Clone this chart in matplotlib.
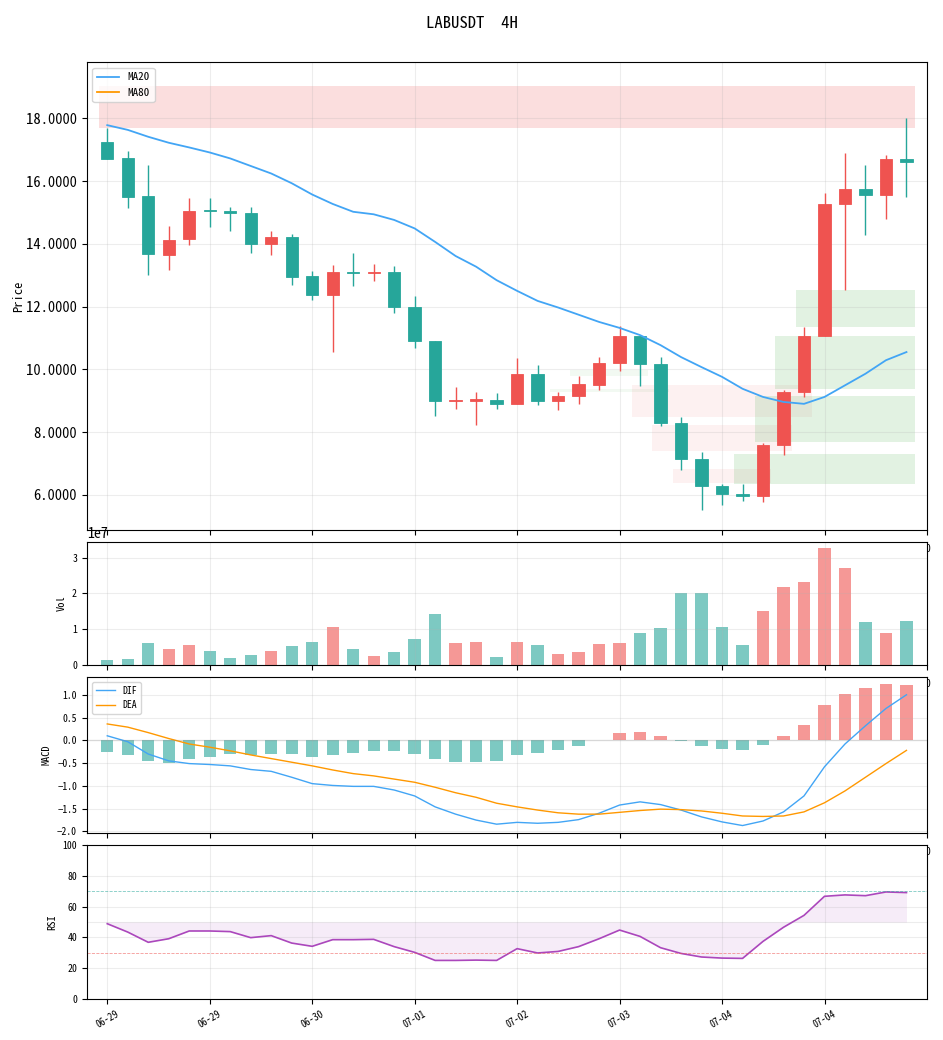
#!/usr/bin/env python3
import matplotlib

matplotlib.use("Agg")
import matplotlib.pyplot as plt

# 4H candles, LABUSDT
opens = [17.23, 16.72, 15.51, 13.63, 14.14, 15.07, 15.05, 14.97, 13.98, 14.23,
         12.96, 12.38, 13.10, 13.08, 13.09, 11.97, 10.91, 8.99, 9.00, 9.03,
         8.90, 9.86, 9.00, 9.16, 9.51, 10.20, 11.07, 10.18, 8.30, 7.15,
         6.29, 6.04, 5.97, 7.60, 9.28, 11.05, 15.26, 15.74, 15.57, 16.69]
closes = [16.71, 15.50, 13.66, 14.11, 15.06, 15.05, 14.97, 13.98, 14.23, 12.95,
          12.38, 13.09, 13.08, 13.10, 11.97, 10.91, 9.00, 9.01, 9.04, 8.90,
          9.86, 9.00, 9.16, 9.54, 10.21, 11.07, 10.18, 8.30, 7.15, 6.29,
          6.03, 5.97, 7.60, 9.29, 11.07, 15.26, 15.74, 15.57, 16.69, 16.60]
highs = [17.70, 16.96, 16.51, 14.56, 15.46, 15.46, 15.17, 15.17, 14.40, 14.31,
         13.13, 13.32, 13.70, 13.35, 13.29, 12.33, 10.91, 9.43, 9.27, 9.23,
         10.35, 10.13, 9.27, 9.78, 10.38, 11.38, 11.07, 10.38, 8.47, 7.38,
         6.36, 6.33, 7.66, 9.35, 11.34, 15.62, 16.89, 16.51, 16.83, 18.01]
lows = [16.71, 15.15, 13.01, 13.17, 13.97, 14.54, 14.41, 13.71, 13.65, 12.69,
        12.21, 10.55, 12.66, 12.82, 11.80, 10.68, 8.51, 8.74, 8.22, 8.73,
        8.90, 8.86, 8.70, 8.90, 9.34, 9.95, 9.47, 8.19, 6.79, 5.51,
        5.68, 5.80, 5.77, 7.27, 9.12, 11.05, 12.53, 14.29, 14.79, 15.50]
volumes = [0.14e7, 0.17e7, 0.61e7, 0.44e7, 0.56e7, 0.39e7, 0.20e7, 0.28e7, 0.39e7, 0.53e7,
           0.645e7, 1.065e7, 0.45e7, 0.25e7, 0.36e7, 0.73e7, 1.43e7, 0.62e7, 0.645e7, 0.22e7,
           0.645e7, 0.56e7, 0.31e7, 0.36e7, 0.59e7, 0.62e7, 0.90e7, 1.04e7, 2.00e7, 2.00e7,
           1.06e7, 0.56e7, 1.50e7, 2.17e7, 2.31e7, 3.28e7, 2.72e7, 1.19e7, 0.89e7, 1.22e7]
ma20 = [17.78, 17.63, 17.41, 17.22, 17.07, 16.91, 16.72, 16.48, 16.24, 15.93,
        15.57, 15.27, 15.02, 14.94, 14.76, 14.49, 14.06, 13.61, 13.27, 12.84,
        12.50, 12.18, 11.97, 11.74, 11.51, 11.32, 11.09, 10.77, 10.39, 10.07,
        9.76, 9.38, 9.12, 8.96, 8.90, 9.12, 9.49, 9.86, 10.29, 10.55]

dif = [0.10, -0.03, -0.30, -0.45, -0.51, -0.53, -0.56, -0.64, -0.68, -0.81,
       -0.95, -0.99, -1.01, -1.01, -1.09, -1.22, -1.46, -1.62, -1.75, -1.84,
       -1.80, -1.82, -1.80, -1.74, -1.60, -1.42, -1.35, -1.41, -1.53, -1.68,
       -1.79, -1.87, -1.77, -1.57, -1.22, -0.58, -0.08, 0.32, 0.70, 1.00]
dea = [0.36, 0.29, 0.17, 0.04, -0.08, -0.15, -0.23, -0.32, -0.40, -0.48,
       -0.56, -0.65, -0.73, -0.78, -0.85, -0.92, -1.03, -1.15, -1.25, -1.38,
       -1.46, -1.53, -1.59, -1.62, -1.62, -1.58, -1.54, -1.51, -1.52, -1.55,
       -1.60, -1.66, -1.67, -1.66, -1.57, -1.37, -1.11, -0.81, -0.51, -0.22]
macd_hist = [-0.25, -0.32, -0.45, -0.49, -0.42, -0.36, -0.29, -0.32, -0.29, -0.30,
             -0.36, -0.32, -0.27, -0.23, -0.23, -0.29, -0.42, -0.47, -0.47, -0.45,
             -0.32, -0.27, -0.21, -0.12, 0.0, 0.16, 0.18, 0.10, -0.015, -0.12,
             -0.18, -0.21, -0.10, 0.10, 0.34, 0.78, 1.02, 1.15, 1.24, 1.22]
rsi = [48.9, 43.5, 36.9, 39.2, 44.2, 44.2, 43.8, 39.9, 41.2, 36.4,
       34.3, 38.6, 38.6, 38.8, 34.1, 30.4, 25.2, 25.2, 25.4, 25.2,
       32.8, 30.0, 31.0, 34.1, 39.2, 44.8, 40.7, 33.4, 29.7, 27.4,
       26.7, 26.5, 37.5, 46.6, 54.3, 66.6, 67.5, 67.0, 69.4, 69.0]

# supply (red) / demand (green) zones: start idx, end idx, low, high
zone_kind = ["supply", "demand", "demand", "supply", "supply", "supply",
             "demand", "demand", "demand", "demand"]
zone_x0 = [-0.4, 22.6, 21.6, 25.6, 26.6, 27.6, 33.6, 32.6, 31.6, 30.6]
zone_x1 = [39.4, 26.4, 27.4, 34.4, 33.4, 32.4, 39.4, 39.4, 39.4, 39.4]
zone_lo = [17.70, 9.79, 9.28, 8.48, 7.39, 6.37, 11.35, 9.36, 7.68, 6.33]
zone_hi = [19.03, 9.97, 9.36, 9.49, 8.21, 6.81, 12.54, 11.05, 9.14, 7.29]
zone_alpha = [0.19, 0.07, 0.07, 0.08, 0.08, 0.08, 0.16, 0.16, 0.16, 0.16]

date_ticks = [0, 5, 10, 15, 20, 25, 30, 35]
date_labels = ["06-29", "06-29", "06-30", "07-01", "07-02", "07-03", "07-04", "07-04"]

UP = "#ef5350"
DOWN = "#26a69a"


def main() -> None:
    plt.rcParams["font.family"] = ["Noto Sans Mono CJK SC", "DejaVu Sans Mono"]
    plt.rcParams["axes.unicode_minus"] = True

    fig = plt.figure(figsize=(9.43, 10.4), dpi=100)
    gs = fig.add_gridspec(4, 1, height_ratios=[468, 123, 156, 155],
                          left=0.092, right=0.983, top=0.940, bottom=0.039,
                          hspace=0.053)
    ax = fig.add_subplot(gs[0])
    ax_vol = fig.add_subplot(gs[1])
    ax_macd = fig.add_subplot(gs[2])
    ax_rsi = fig.add_subplot(gs[3])

    x = list(range(len(closes)))
    colors = [UP if c >= o else DOWN for o, c in zip(opens, closes)]

    # zones
    for kind, x0, x1, lo, hi, a in zip(zone_kind, zone_x0, zone_x1, zone_lo, zone_hi, zone_alpha):
        col = UP if kind == "supply" else "#4caf50"
        ax.fill_between([x0, x1], lo, hi, color=col, alpha=a, lw=0, zorder=1)

    # candles
    ax.vlines(x, lows, highs, colors=colors, lw=1.0, zorder=3)
    bottoms = [min(o, c) for o, c in zip(opens, closes)]
    heights = [max(abs(c - o), 0.035) for o, c in zip(opens, closes)]
    ax.bar(x, heights, bottom=bottoms, width=0.6, color=colors, edgecolor=colors,
           lw=0.6, zorder=4)

    ax.plot(x, ma20, color="#42a5f5", lw=1.3, label="MA20", zorder=5)
    ax.plot([], [], color="#ff9800", lw=1.3, label="MA80")
    ax.legend(loc="upper left", fontsize=8)
    ax.set_ylim(4.88, 19.78)
    ax.set_ylabel("Price", fontsize=9, labelpad=1)
    ax.yaxis.set_major_formatter(matplotlib.ticker.FormatStrFormatter("%.4f"))
    ax.tick_params(axis="y", labelsize=10.5)

    # volume
    ax_vol.bar(x, volumes, width=0.6, color=colors, alpha=0.6)
    ax_vol.set_yticks([0, 1e7, 2e7, 3e7])
    ax_vol.set_ylabel("Vol", fontsize=7.5)
    ax_vol.yaxis.get_offset_text().set_fontsize(10)

    # macd
    hist_colors = [UP if h >= 0 else DOWN for h in macd_hist]
    ax_macd.bar(x, macd_hist, width=0.6, color=hist_colors, alpha=0.6)
    ax_macd.plot(x, dif, color="#42a5f5", lw=1.0, label="DIF")
    ax_macd.plot(x, dea, color="#ff9800", lw=1.0, label="DEA")
    ax_macd.axhline(0, color="gray", lw=1.0, alpha=0.2)
    ax_macd.legend(loc="upper left", fontsize=7)
    ax_macd.set_ylabel("MACD", fontsize=7.5)

    # rsi
    ax_rsi.plot(x, rsi, color="#ab47bc", lw=1.2)
    ax_rsi.fill_between(x, rsi, 50, color="#ab47bc", alpha=0.1, lw=0)
    ax_rsi.axhline(70, color="#26a69a", ls="--", lw=0.6, alpha=0.6)
    ax_rsi.axhline(30, color="#ef5350", ls="--", lw=0.6, alpha=0.6)
    ax_rsi.axhline(50, color="gray", lw=0.8, alpha=0.15)
    ax_rsi.set_ylim(0, 100)
    ax_rsi.set_ylabel("RSI", fontsize=7.5)

    for a in (ax, ax_vol, ax_macd, ax_rsi):
        a.set_xlim(-1, 40)
        a.grid(True, alpha=0.22)
        if a is not ax:
            a.tick_params(axis="y", labelsize=7)
        a.set_xticks(range(0, 41, 5))
        # labels of the upper panels end up under the next panel
        a.tick_params(axis="x", labelsize=7, pad=6.5)

    ax_rsi.set_xticks(date_ticks)
    ax_rsi.set_xticklabels(date_labels, rotation=30, fontsize=7)
    ax_rsi.tick_params(axis="x", pad=3.5)

    fig.suptitle("LABUSDT  4H", fontsize=12, y=0.985)
    fig.savefig("out.png", dpi=100)


if __name__ == "__main__":
    main()
